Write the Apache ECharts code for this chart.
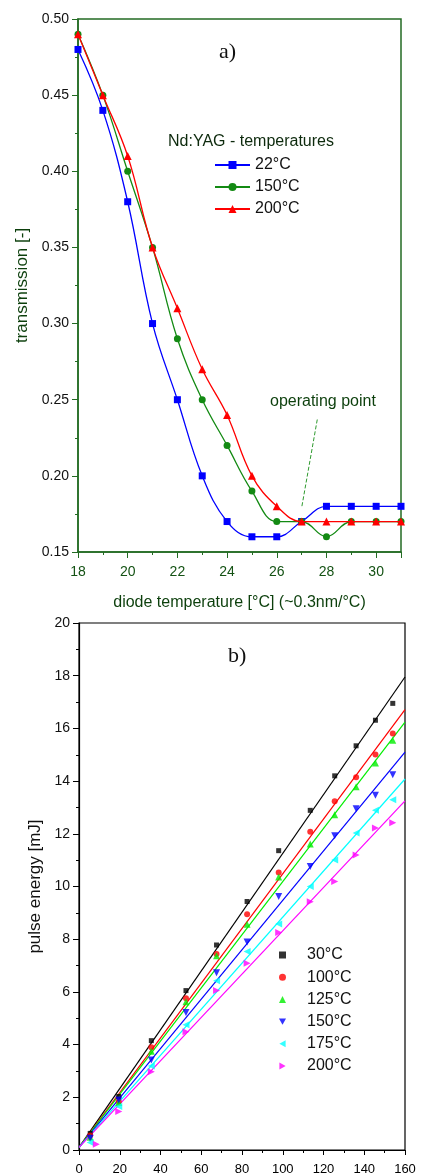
<!DOCTYPE html>
<html><head><meta charset="utf-8">
<script src="https://cdn.jsdelivr.net/npm/echarts@6/dist/echarts.min.js"></script>
<style>html,body{margin:0;padding:0;background:#fff}#c{width:421px;height:1176px}</style>
</head><body><div id="c"></div>
<script>
// ---- panel a) data ----
const diodeTemps = [18,19,20,21,22,23,24,25,26,27,28,29,30,31];
const trans22  = [0.48,0.44,0.38,0.30,0.25,0.20,0.17,0.16,0.16,0.17,0.18,0.18,0.18,0.18];
const trans150 = [0.49,0.45,0.40,0.35,0.29,0.25,0.22,0.19,0.17,0.17,0.16,0.17,0.17,0.17];
const trans200 = [0.49,0.45,0.41,0.35,0.31,0.27,0.24,0.20,0.18,0.17,0.17,0.17,0.17,0.17];
const seriesNamesA = ['22°C','150°C','200°C'];
const opPointArrow = [[27.63,0.237],[27.0,0.179]];

// ---- panel b) data ----
const pumpX    = [5.5,19.5,35.5,52.5,67.5,82.5,98,113.5,125.5,136,145.5,154];
const pumpX200 = [8.5,19.5,35.5,52.5,67.5,82.5,98,113.5,125.5,136,145.5,154];
const e30  = [0.63,2.03,4.15,6.05,7.78,9.43,11.36,12.89,14.20,15.34,16.31,16.95];
const e100 = [0.55,1.84,3.90,5.76,7.44,8.95,10.53,12.08,13.24,14.15,15.01,15.81];
const e125 = [0.48,1.80,3.75,5.63,7.37,8.57,10.36,11.61,12.72,13.79,14.69,15.55];
const e150 = [0.45,1.90,3.42,5.22,6.73,7.89,9.62,10.76,11.93,12.95,13.46,14.24];
const e175 = [0.28,1.65,3.19,4.75,6.42,7.53,8.58,10.00,11.01,12.03,12.89,13.29];
const e200 = [0.22,1.46,2.97,4.49,6.05,7.09,8.25,9.42,10.19,11.20,12.22,12.42];
const fitX   = [0,160];
const fit30  = [0.10,17.95];
const fit100 = [0.10,16.71];
const fit125 = [0.10,16.24];
const fit150 = [0.10,15.10];
const fit175 = [0.10,14.08];
const fit200 = [0.10,13.25];
const energyLabels = ['30°C','100°C','125°C','150°C','175°C','200°C'];

const zip = (xs, ys) => xs.map((x,i)=>[x, ys[i]]);
const FONT = 'Liberation Sans, Arial, sans-serif';
const GREEN = '#236b23';
const DKGREEN = '#0c3f0c';

const chart = echarts.init(document.getElementById('c'), null, {renderer:'canvas'});

const colorsB = ['#000000','#ff0000','#00ee00','#0000ff','#00ffff','#ff00ff'];
const symbolsB = ['rect','circle','triangle','triangle','triangle','triangle'];
const legendIconsB = ['rect','circle','triangle','path://M0,0L10,0L5,9Z','path://M10,0L10,10L1,5Z','path://M0,0L0,10L9,5Z'];
const rotB = [0,0,0,180,90,-90];
const sizeB = [5,6,7,7,7,7];
const dataB = [e30,e100,e125,e150,e175,e200];
const fitsB = [fit30,fit100,fit125,fit150,fit175,fit200];
const xsB = [pumpX,pumpX,pumpX,pumpX,pumpX,pumpX200];
const idsB = ['E30','E100','E125','E150','E175','E200'];

const seriesB = [];
fitsB.forEach((f,i)=>{
  seriesB.push({type:'line', xAxisIndex:1, yAxisIndex:1, data: zip(fitX, f), showSymbol:false, symbol:'none',
    lineStyle:{color:colorsB[i], width:1.2}, silent:true, z:2, name:'fit'+i});
});
dataB.forEach((d,i)=>{
  seriesB.push({type:'scatter', name: idsB[i], xAxisIndex:1, yAxisIndex:1, data: zip(xsB[i], d),
    symbol:symbolsB[i], symbolRotate:rotB[i], symbolSize:sizeB[i], itemStyle:{color:colorsB[i]}, z:3});
});

const option = {
  animation:false,
  textStyle:{fontFamily:FONT},
  grid:[
    {left:78, top:19, width:323, height:533, show:true, borderColor:GREEN, borderWidth:1.5, backgroundColor:'transparent'},
    {left:79, top:623, width:326, height:527, show:true, borderColor:'#000', borderWidth:1.2, backgroundColor:'transparent'}
  ],
  xAxis:[
    {type:'value', gridIndex:0, min:18, max:31, interval:2,
     name:'diode temperature [°C] (~0.3nm/°C)', nameLocation:'middle', nameGap:43,
     nameTextStyle:{color:DKGREEN, fontSize:16, fontFamily:FONT},
     axisLine:{lineStyle:{color:GREEN, width:1.5}},
     axisTick:{length:6, lineStyle:{color:GREEN}},
     minorTick:{show:true, splitNumber:2, length:3, lineStyle:{color:GREEN}},
     axisLabel:{color:'#145214', fontSize:14, fontFamily:FONT, margin:13, showMaxLabel:false},
     splitLine:{show:false}},
    {type:'value', gridIndex:1, min:0, max:160, interval:20,
     axisLine:{lineStyle:{color:'#000', width:1.2}},
     axisTick:{length:5, lineStyle:{color:'#000'}},
     minorTick:{show:true, splitNumber:2, length:3, lineStyle:{color:'#000'}},
     axisLabel:{color:'#000', fontSize:13, fontFamily:FONT, margin:13},
     splitLine:{show:false}}
  ],
  yAxis:[
    {type:'value', gridIndex:0, min:0.15, max:0.5, interval:0.05,
     name:'transmission [-]', nameLocation:'middle', nameGap:47,
     nameTextStyle:{color:DKGREEN, fontSize:17, fontFamily:FONT},
     axisLine:{lineStyle:{color:GREEN, width:1.5}},
     axisTick:{length:6, lineStyle:{color:GREEN}},
     minorTick:{show:true, splitNumber:2, length:3, lineStyle:{color:GREEN}},
     axisLabel:{color:'#111', fontSize:14, fontFamily:FONT, margin:9, formatter:v=>v.toFixed(2)},
     splitLine:{show:false}},
    {type:'value', gridIndex:1, min:0, max:20, interval:2,
     name:'pulse energy [mJ]', nameLocation:'middle', nameGap:33,
     nameTextStyle:{color:'#111', fontSize:17, fontFamily:FONT},
     axisLine:{lineStyle:{color:'#000', width:1.2}},
     axisTick:{length:6, lineStyle:{color:'#000'}},
     minorTick:{show:true, splitNumber:2, length:3, lineStyle:{color:'#000'}},
     axisLabel:{color:'#111', fontSize:14, fontFamily:FONT, margin:9},
     splitLine:{show:false}}
  ],
  legend:[
    {data:seriesNamesA, orient:'vertical', left:209, top:152, itemWidth:35, itemHeight:10, itemGap:6,
     textStyle:{fontSize:16, color:'#111', fontFamily:FONT}, selectedMode:false},
    {data:idsB.map((n,i)=>({name:n, icon:legendIconsB[i]})), orient:'vertical', left:274, top:942, itemWidth:7, itemHeight:7, itemGap:6.2,
     formatter: n => energyLabels[idsB.indexOf(n)],
     textStyle:{fontSize:16, color:'#111', fontFamily:FONT, padding:[0,0,0,16]}, selectedMode:false}
  ],
  graphic:[
    {type:'text', left:219, top:41, style:{text:'a)', font:'22px "Liberation Serif", "Times New Roman", serif', fill:'#111'}},
    {type:'text', left:228, top:645, style:{text:'b)', font:'22px "Liberation Serif", "Times New Roman", serif', fill:'#111'}},
    {type:'text', left:168, top:134, style:{text:'Nd:YAG - temperatures', font:'16px '+FONT, fill:'#0d2a0d'}},
    {type:'text', left:270, top:394, style:{text:'operating point', font:'16px '+FONT, fill:DKGREEN}}
  ],
  series:[
    {type:'line', name:seriesNamesA[0], data:zip(diodeTemps, trans22), smooth:0.4,
     symbol:'rect', symbolSize:7, itemStyle:{color:'#0000ff'}, lineStyle:{color:'#0000ff', width:1.3}, z:3},
    {type:'line', name:seriesNamesA[1], data:zip(diodeTemps, trans150), smooth:0.4,
     symbol:'circle', symbolSize:7, itemStyle:{color:'#138a13'}, lineStyle:{color:'#138a13', width:1.3}, z:4},
    {type:'line', name:seriesNamesA[2], data:zip(diodeTemps, trans200), smooth:0.4,
     symbol:'triangle', symbolSize:8, itemStyle:{color:'#ff0000'}, lineStyle:{color:'#ff0000', width:1.3}, z:5,
     markLine:{silent:true, symbol:['none','arrow'], symbolSize:[0,10], label:{show:false}, z:10,
       lineStyle:{color:'#2e9a2e', type:'dashed', width:1},
       data:[[{coord:opPointArrow[0]},{coord:opPointArrow[1]}]]}}
  ].concat(seriesB)
};
chart.setOption(option);
</script>
</body></html>
